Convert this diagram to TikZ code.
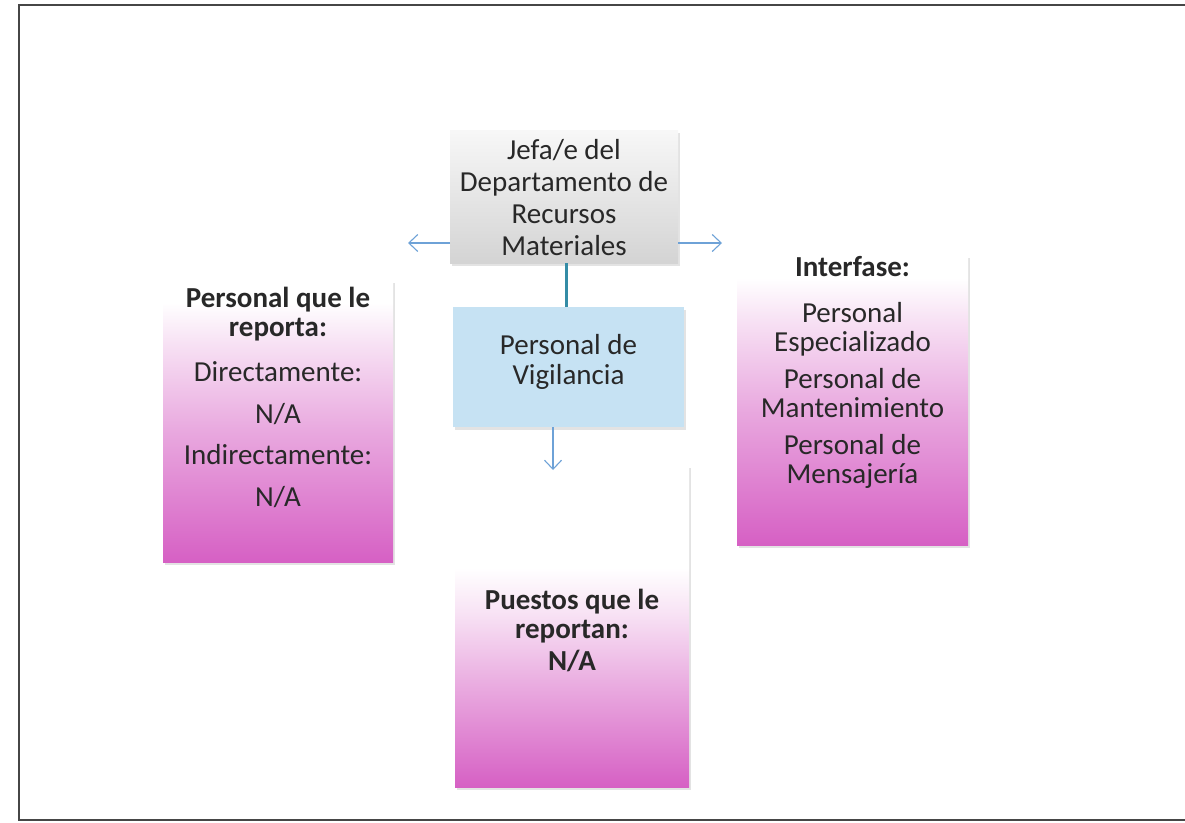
\documentclass[tikz,border=0pt]{standalone}
\usepackage{fontspec}
\setmainfont{Carlito}
\usetikzlibrary{arrows.meta,shadows}
\definecolor{mag}{RGB}{214,96,196}
\colorlet{magA}{mag!55!white}
\colorlet{magB}{mag!18!white}
\definecolor{txt}{RGB}{40,40,40}
\definecolor{tealline}{RGB}{52,140,166}
\definecolor{arrblue}{RGB}{110,162,215}
\definecolor{vblue}{RGB}{198,226,243}
\definecolor{framecol}{RGB}{70,70,70}
\colorlet{grayA}{black!3}
\colorlet{grayB}{black!17}
\pgfdeclareverticalshading{pinkside}{100bp}{color(0bp)=(mag); color(25bp)=(mag); color(48bp)=(magA); color(64bp)=(magB); color(71bp)=(white); color(100bp)=(white)}
\pgfdeclareverticalshading{pinkbottom}{100bp}{color(0bp)=(mag); color(25bp)=(mag); color(40bp)=(magA); color(52bp)=(magB); color(59bp)=(white); color(100bp)=(white)}
\newcommand{\boxtxt}[4]{\parbox[c][#2][t]{#1}{\centering\fontsize{29}{29}\selectfont\lineskiplimit=-20pt\lineskip=0pt\rule{0pt}{#3}#4\par}}
\tikzset{
  box/.style={rectangle, inner sep=0pt, outer sep=0pt, text=txt,
    drop shadow={shadow xshift=2pt, shadow yshift=-2.5pt, opacity=0.22}},
  sidebox/.style={box, shade, shading=pinkside},
  bottombox/.style={box, shade, shading=pinkbottom},
  headbox/.style={box, top color=grayA, bottom color=grayB},
  bluebox/.style={box, fill=vblue},
  arr/.style={draw=arrblue, line width=1.1pt, -{Straight Barb[length=9pt,width=17pt]}},
  link/.style={draw=tealline, line width=3pt},
  framestyle/.style={draw=framecol, line width=2pt}
}
\begin{document}
\begin{tikzpicture}[x=1pt,y=-1pt]
\useasboundingbox (0,0) rectangle (1185,822);
\draw[framestyle] (1185,5) -- (19,5) -- (19,820) -- (1185,820);

\node[headbox, minimum width=228pt, minimum height=133pt] (G) at (564,196.5)
  {\boxtxt{228pt}{133pt}{29pt}{Jefa/e del\\[3pt]Departamento de\\[3pt]Recursos\\[3pt]Materiales}};
\node[bluebox, minimum width=231pt, minimum height=120pt] (B) at (568.5,367)
  {\boxtxt{231pt}{120pt}{47pt}{Personal de\\[1pt]Vigilancia}};
\node[bottombox, minimum width=234pt, minimum height=322pt] (P) at (572,626)
  {\boxtxt{234pt}{322pt}{144pt}{\textbf{Puestos que le}\\\textbf{reportan:}\\[3pt]\textbf{N/A}}};
\node[sidebox, minimum width=230pt, minimum height=282pt] (L) at (278,421)
  {\boxtxt{230pt}{282pt}{27pt}{\textbf{Personal que le}\\\textbf{reporta:}\\[16pt]Directamente:\\[13pt]N/A\\[12pt]Indirectamente:\\[13pt]N/A}};
\node[sidebox, minimum width=231pt, minimum height=290pt] (R) at (852.5,400)
  {\boxtxt{231pt}{290pt}{21pt}{\textbf{Interfase:}\\[17pt]Personal\\Especializado\\[8pt]Personal de\\Mantenimiento\\[8pt]Personal de\\Mensajería}};

\coordinate (la) at (408,243);
\coordinate (ra) at (722,243);
\coordinate (da) at (553,470);
\coordinate (lk) at (566,0);
\draw[link] (G.south -| lk) -- (B.north -| lk);
\draw[arr] (G.west |- la) -- (la);
\draw[arr] (G.east |- ra) -- (ra);
\draw[arr] (B.south -| da) -- (da);
\end{tikzpicture}
\end{document}
